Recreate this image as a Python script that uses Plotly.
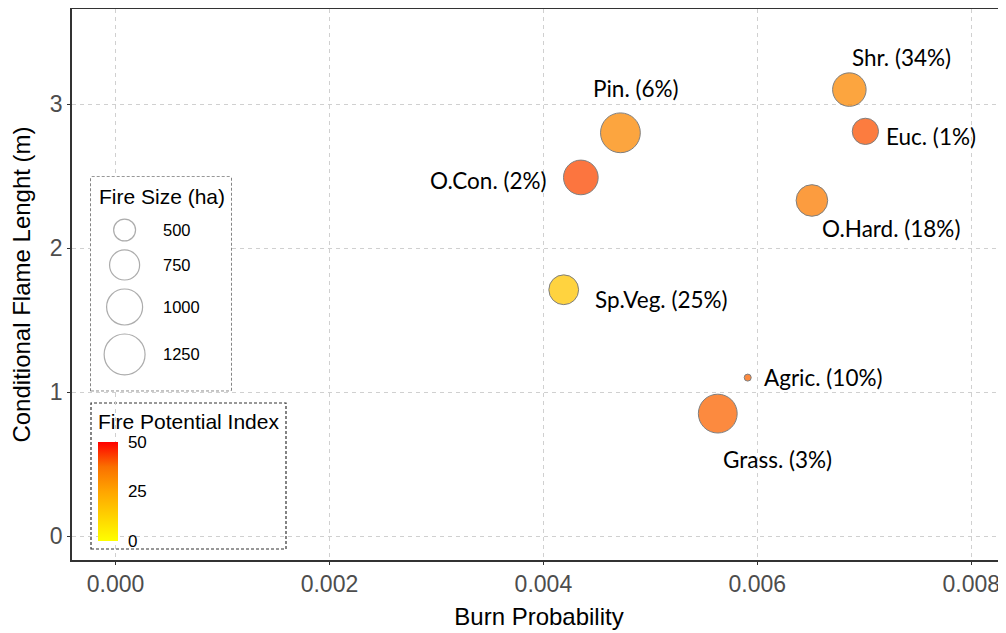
import numpy as np
import plotly.graph_objects as go

# ---------------- data ----------------
classes = ["Shr.", "Euc.", "Pin.", "O.Con.", "O.Hard.", "Sp.Veg.", "Agric.", "Grass."]
area_pct = [34, 1, 6, 2, 18, 25, 10, 3]
burn_prob = [0.00686, 0.00701, 0.00472, 0.00435, 0.00651, 0.00419, 0.00591, 0.00563]
flame_len = [3.10, 2.81, 2.80, 2.49, 2.33, 1.71, 1.10, 0.85]
fire_size = [890, 620, 1190, 940, 810, 740, 320, 1140]
fpi = [32, 41, 32, 42, 35, 16, 39, 39]

size_breaks = [500, 750, 1000, 1250]
fpi_breaks = [0, 25, 50]
x_ticks = [0.000, 0.002, 0.004, 0.006, 0.008]
y_ticks = [0, 1, 2, 3]

# ---------------- styles ----------------
ARIAL = "Liberation Sans, Arial, sans-serif"
CALIBRI = "Lato, Carlito, sans-serif"
D_MIN, D_MAX = 7.0, 39.8
colorscale = [[0.0, "#FFFF00"], [0.5, "#FFA500"], [0.75, "#FA7000"], [1.0, "#FF0000"]]
# label placement per class: (xanchor, xshift, yshift)
label_pos = [("center", 52, 32), ("left", 19, -5), ("center", 16, 44), ("right", -32, -3),
             ("center", 79, -28), ("left", 29, -10), ("left", 14, 0), ("center", 60, -46)]

OFF = 8                      # page offset of the figure inside the html body
W, H = 1006 - OFF, 633 - OFF
ML, MR, MT, MB = 64, 0, 1, 73
PW, PH = W - ML - MR, H - MT - MB
X_PX0, X_PX_PER_UNIT = 115.5, 106975.0   # page px of x=0, px per unit
Y_PX0, Y_PX_PER_UNIT = 536.0, 144.0      # page px of y=0


def size_scale(v):
    lo, hi = min(fire_size), max(fire_size)
    v = np.asarray(v, dtype=float)
    return D_MIN + (D_MAX - D_MIN) * np.sqrt(np.clip((v - lo) / (hi - lo), 0, None))


def px_x(p):  # page pixel -> paper
    return (p - OFF - ML) / PW


def px_y(p):
    return (H - MB - (p - OFF)) / PH


fig = go.Figure()

# main bubbles
fig.add_trace(go.Scatter(
    x=burn_prob, y=flame_len, mode="markers",
    marker=dict(size=size_scale(fire_size), color=fpi, cmin=0, cmax=50,
                colorscale=colorscale, opacity=0.75,
                line=dict(color="#555555", width=1),
                showscale=True,
                colorbar=dict(x=px_x(98), xanchor="left", xpad=0, xref="paper",
                              y=px_y(491.5), yanchor="middle", ypad=0,
                              lenmode="pixels", len=99, thickness=20,
                              outlinewidth=0, tickvals=fpi_breaks,
                              ticks="outside", ticklen=7, tickcolor="rgba(0,0,0,0)",
                              tickfont=dict(family=ARIAL, size=17, color="black"))),
    showlegend=False, hoverinfo="skip"))

for i, (c, p) in enumerate(zip(classes, area_pct)):
    xa, xs, ys = label_pos[i]
    fig.add_annotation(x=burn_prob[i], y=flame_len[i], text=f"{c} ({p}%)", showarrow=False,
                       xanchor=xa, yanchor="middle", xshift=xs, yshift=ys,
                       font=dict(family=CALIBRI, size=22.5, color="black"))

# ---------------- size legend (inset axes in pixel units) ----------------
box1 = (91, 177, 231, 390.7)
box2 = (91, 403, 286, 549)
bw, bh = box1[2] - box1[0], box1[3] - box1[1]
d = size_scale(size_breaks)
centers = [53.0]
for k in range(1, len(d)):
    centers.append(centers[-1] + (d[k - 1] + d[k]) / 2 + 9)

fig.add_trace(go.Scatter(
    x=[33.6] * len(size_breaks), y=centers, mode="markers", xaxis="x2", yaxis="y2",
    marker=dict(size=d, color="white", line=dict(color="#8A8A8A", width=1.2)),
    showlegend=False, hoverinfo="skip"))
for v, cy in zip(size_breaks, centers):
    fig.add_annotation(x=69.5, y=cy, xref="x2", yref="y2", text=str(v), showarrow=False,
                       xanchor="left", yanchor="middle",
                       font=dict(family=ARIAL, size=16.5, color="black"))
fig.add_annotation(x=5.5, y=19.7, xref="x2", yref="y2", text="Fire Size (ha)", showarrow=False,
                   xanchor="left", yanchor="middle", font=dict(family=ARIAL, size=21, color="black"))
fig.add_annotation(x=px_x(96), y=px_y(421.7), xref="paper", yref="paper", text="Fire Potential Index",
                   showarrow=False, xanchor="left", yanchor="middle",
                   font=dict(family=ARIAL, size=21, color="black"))

for b in (box1, box2):
    fig.add_shape(type="rect", xref="paper", yref="paper",
                  x0=px_x(b[0]), x1=px_x(b[2]), y0=px_y(b[3]), y1=px_y(b[1]),
                  fillcolor="white", line=dict(color="#333333", width=1.2, dash="3px,2px"),
                  layer="between")

axis_common = dict(showgrid=True, gridcolor="#D0D0D0", gridwidth=1, griddash="4px,4px",
                   zeroline=False, showline=True, linecolor="#333333", linewidth=1.5,
                   ticks="outside", ticklen=3, tickcolor="#333333", tickwidth=1,
                   automargin=False,
                   tickfont=dict(family=ARIAL, size=23, color="#4D4D4D"))

# axis ranges from the plot-area edges (page pixels)
left_pg, right_pg = OFF + ML, OFF + W - MR
top_pg, bot_pg = OFF + MT, OFF + H - MB
x0 = (left_pg - X_PX0) / X_PX_PER_UNIT
x1 = (right_pg - X_PX0) / X_PX_PER_UNIT
y0 = (Y_PX0 - bot_pg) / Y_PX_PER_UNIT
y1 = (Y_PX0 - top_pg) / Y_PX_PER_UNIT

fig.update_layout(
    width=W, height=H, autosize=False,
    margin=dict(l=ML, r=MR, t=MT, b=MB, pad=0),
    plot_bgcolor="white", paper_bgcolor="white",
    xaxis=dict(range=[x0, x1], tickvals=x_ticks, ticktext=[f"{t:.3f}" for t in x_ticks],
               mirror=True, title=dict(text="Burn Probability", standoff=12,
                                       font=dict(family=ARIAL, size=24, color="black")),
               **axis_common),
    yaxis=dict(range=[y0, y1], tickvals=y_ticks,
               mirror=False, title=dict(text="Conditional Flame Lenght (m)", standoff=14,
                                        font=dict(family=ARIAL, size=24, color="black")),
               **axis_common),
    xaxis2=dict(domain=[px_x(box1[0]), px_x(box1[2])], range=[0, bw], anchor="y2", visible=False),
    yaxis2=dict(domain=[px_y(box1[3]), px_y(box1[1])], range=[bh, 0], anchor="x2", visible=False),
)

fig.write_html("out.html")
